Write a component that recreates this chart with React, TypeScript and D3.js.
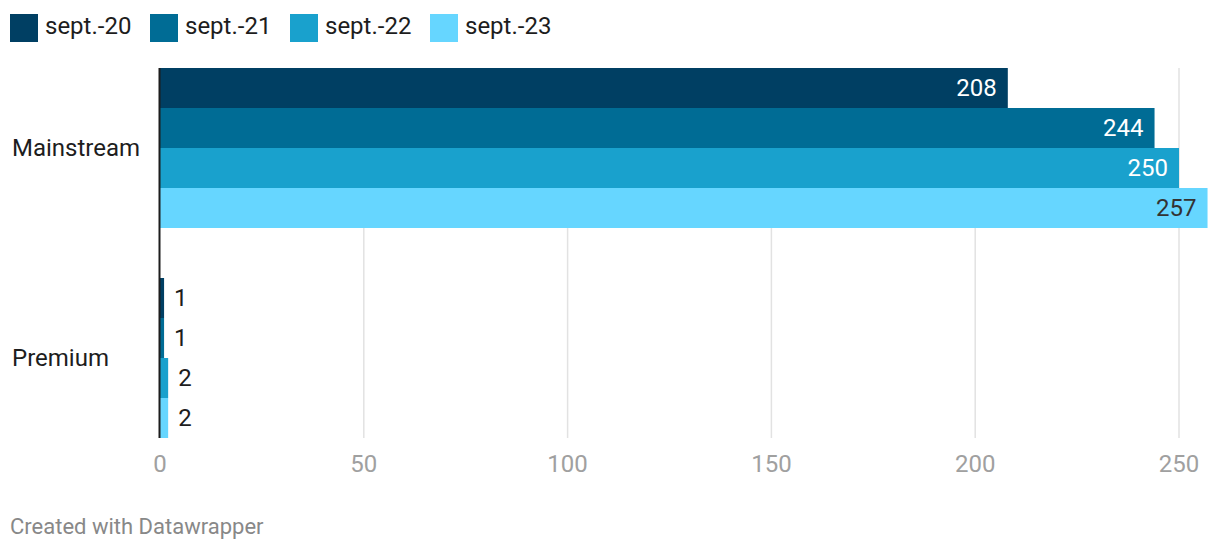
import React from "react";
import * as d3 from "d3";

const categories = ["Mainstream", "Premium"];
const seriesNames = ["sept.-20", "sept.-21", "sept.-22", "sept.-23"];
const mainstreamValues = [208, 244, 250, 257];
const premiumValues = [1, 1, 2, 2];
const xTicks = [0, 50, 100, 150, 200, 250];
const colors = ["#003f63", "#006c95", "#19a1cd", "#66d6ff"];
const labelColors = ["#ffffff", "#ffffff", "#ffffff", "#333333"];

const values: number[][] = [mainstreamValues, premiumValues];

const W = 1220;
const H = 552;
const FONT = "Roboto, 'Noto Sans', sans-serif";

export default function App() {
  const x = d3.scaleLinear().domain([0, 250]).range([160, 1179]);
  const groupTop = (i: number) => 68 + i * 210;
  const inner = d3.scaleBand().domain(seriesNames).range([0, 160]).padding(0);

  return (
    <div style={{ margin: -8 }}>
      <svg width={W} height={H} style={{ display: "block", fontFamily: FONT }}>
        <rect width={W} height={H} fill="#fff" />
        {/* legend */}
        {seriesNames.map((s, i) => (
          <g key={s} transform={`translate(${10 + i * 140},14)`}>
            <rect width={28} height={28} fill={colors[i]} />
            <text x={35} y={19.5} fontSize={24} fill="#1d1d1d">
              {s}
            </text>
          </g>
        ))}
        {/* grid */}
        {xTicks.slice(1).map((t) => (
          <line key={t} x1={x(t)} x2={x(t)} y1={68} y2={438} stroke="#e2e2e2" strokeWidth={1.5} />
        ))}
        {/* bars */}
        {categories.map((c, ci) => {
          const gy = groupTop(ci);
          return (
            <g key={c}>
              <text x={12} y={gy + 80} dy="0.35em" fontSize={24} fill="#1d1d1d">
                {c}
              </text>
              {seriesNames.map((s, si) => {
                const v = values[ci][si];
                const y = gy + (inner(s) as number);
                const bw = inner.bandwidth();
                const xe = x(v);
                const inside = xe - x(0) > 60;
                return (
                  <g key={s}>
                    <rect x={x(0)} y={y} width={xe - x(0)} height={bw} fill={colors[si]} />
                    <text
                      x={inside ? xe - 11 : xe + 10}
                      y={y + bw / 2}
                      dy="0.35em"
                      fontSize={24}
                      textAnchor={inside ? "end" : "start"}
                      fill={inside ? labelColors[si] : "#1d1d1d"}
                    >
                      {v}
                    </text>
                  </g>
                );
              })}
            </g>
          );
        })}
        {/* axis line */}
        <line x1={159.5} x2={159.5} y1={68} y2={438} stroke="#1d1d1d" strokeWidth={2} />
        {/* tick labels */}
        {xTicks.map((t) => (
          <text key={t} x={x(t)} y={464} dy="0.35em" fontSize={24} textAnchor="middle" fill="#a0a0a0">
            {t}
          </text>
        ))}
        <text x={10} y={526} dy="0.35em" fontSize={22} fill="#888888">
          Created with Datawrapper
        </text>
      </svg>
    </div>
  );
}
